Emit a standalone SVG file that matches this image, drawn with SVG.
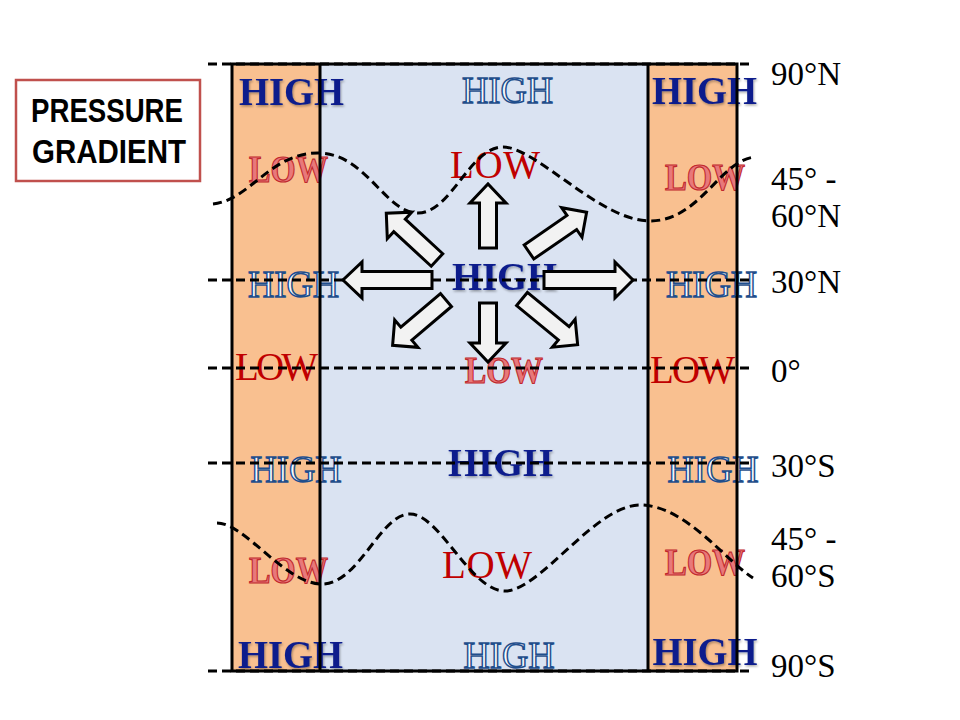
<svg xmlns="http://www.w3.org/2000/svg" width="960" height="720" viewBox="0 0 960 720">
<style>
.hs{font-family:"Liberation Serif",serif;font-weight:bold;font-size:40px;fill:#0A1E8C;text-anchor:middle}
.ho{font-family:"Liberation Serif",serif;font-size:37px;fill:#F7FAFD;stroke:#1F4E8C;stroke-width:1.5;text-anchor:middle}
.ls{font-family:"Liberation Serif",serif;font-size:39px;fill:#C00000;text-anchor:middle}
.lo{font-family:"Liberation Serif",serif;font-weight:bold;font-size:37px;fill:#E8787A;stroke:#C0282D;stroke-width:1.2;text-anchor:middle}
.lat{font-family:"Liberation Serif",serif;font-size:33px;fill:#000}
.dash{fill:none;stroke:#000;stroke-width:3;stroke-dasharray:9 5}
.arr{fill:#F2F2F2;stroke:#000;stroke-width:3;stroke-linejoin:miter}
.title{font-family:"Liberation Sans",Arial,sans-serif;font-weight:bold;font-size:34px;fill:#000;text-anchor:middle}
</style>
<defs>
<filter id="sh" x="-10%" y="-20%" width="130%" height="150%">
<feDropShadow dx="1" dy="1.5" stdDeviation="1" flood-color="#000" flood-opacity="0.35"/>
</filter>
</defs>
<rect width="960" height="720" fill="#fff"/>

<g id="bands">
<rect x="232" y="64" width="88" height="607" fill="#F9C090"/>
<rect x="320" y="64" width="328" height="607" fill="#DAE3F2"/>
<rect x="648" y="64" width="89" height="607" fill="#F9C090"/>
</g>

<g id="title">
<rect x="16" y="80" width="184" height="101" fill="#fff" stroke="#C0504D" stroke-width="2.5"/>
<text class="title" x="107" y="122" textLength="152" lengthAdjust="spacingAndGlyphs">PRESSURE</text>
<text class="title" x="109" y="163" textLength="154" lengthAdjust="spacingAndGlyphs">GRADIENT</text>
</g>

<g id="labels-high">
<text class="hs" filter="url(#sh)" x="291.5" y="105" textLength="105" lengthAdjust="spacingAndGlyphs">HIGH</text>
<text class="hs" filter="url(#sh)" x="704.5" y="104" textLength="105" lengthAdjust="spacingAndGlyphs">HIGH</text>
<text class="hs" filter="url(#sh)" x="504.5" y="290" textLength="105" lengthAdjust="spacingAndGlyphs">HIGH</text>
<text class="hs" filter="url(#sh)" x="500.5" y="476" textLength="105" lengthAdjust="spacingAndGlyphs">HIGH</text>
<text class="hs" filter="url(#sh)" x="290.5" y="668" textLength="105" lengthAdjust="spacingAndGlyphs">HIGH</text>
<text class="hs" filter="url(#sh)" x="705" y="665" textLength="105" lengthAdjust="spacingAndGlyphs">HIGH</text>
<text class="ho" x="507.5" y="103" textLength="91" lengthAdjust="spacingAndGlyphs">HIGH</text>
<text class="ho" x="293.5" y="297" textLength="91" lengthAdjust="spacingAndGlyphs">HIGH</text>
<text class="ho" x="711.5" y="297" textLength="91" lengthAdjust="spacingAndGlyphs">HIGH</text>
<text class="ho" x="296" y="482" textLength="91" lengthAdjust="spacingAndGlyphs">HIGH</text>
<text class="ho" x="713" y="482" textLength="91" lengthAdjust="spacingAndGlyphs">HIGH</text>
<text class="ho" x="509" y="668" textLength="91" lengthAdjust="spacingAndGlyphs">HIGH</text>
</g>

<g id="labels-low">
<text class="ls" x="495" y="178" textLength="90">LOW</text>
<text class="ls" x="276.5" y="380" textLength="83">LOW</text>
<text class="ls" x="692.5" y="383" textLength="85">LOW</text>
<text class="ls" x="487" y="578" textLength="90">LOW</text>
<text class="lo" x="288.5" y="182" textLength="79" lengthAdjust="spacingAndGlyphs">LOW</text>
<text class="lo" x="705" y="190" textLength="80" lengthAdjust="spacingAndGlyphs">LOW</text>
<text class="lo" x="504" y="383" textLength="78" lengthAdjust="spacingAndGlyphs">LOW</text>
<text class="lo" x="288.5" y="583" textLength="79" lengthAdjust="spacingAndGlyphs">LOW</text>
<text class="lo" x="705" y="575" textLength="80" lengthAdjust="spacingAndGlyphs">LOW</text>
</g>

<g id="latitudes">
<line class="dash" x1="208" y1="64" x2="752" y2="64"/>
<line class="dash" x1="208" y1="280" x2="752" y2="280"/>
<line class="dash" x1="208" y1="368" x2="752" y2="368"/>
<line class="dash" x1="208" y1="463" x2="752" y2="463"/>
<line class="dash" x1="208" y1="671" x2="752" y2="671"/>
<path class="dash" d="M213,204 C250,200 270,153 318,153 S385,213 418,213 S470,147 503,147 S600,221 650,221 S720,160 755,157"/>
<path class="dash" d="M217,523 C245,523 285,584 322,584 S380,514 410,514 S470,591 505,591 S595,505 640,505 S725,560 753,578"/>
</g>

<g id="frame" fill="none" stroke="#000" stroke-width="3">
<rect x="232" y="64" width="505" height="607"/>
<line x1="320" y1="64" x2="320" y2="671"/>
<line x1="648" y1="64" x2="648" y2="671"/>
</g>

<g id="lat-labels">
<text class="lat" x="771" y="85">90°N</text>
<text class="lat" x="771" y="190">45° -</text>
<text class="lat" x="771" y="227">60°N</text>
<text class="lat" x="771" y="293">30°N</text>
<text class="lat" x="771" y="382">0°</text>
<text class="lat" x="771" y="477">30°S</text>
<text class="lat" x="771" y="550">45° -</text>
<text class="lat" x="771" y="587">60°S</text>
<text class="lat" x="771" y="677">90°S</text>
</g>

<g id="connectors">
<polygon class="arr" transform="translate(488,248) rotate(-90)" points="0,-8.5 45,-8.5 45,-18 64,0 45,18 45,8.5 0,8.5"/>
<polygon class="arr" transform="translate(488,303) rotate(90)" points="0,-8.5 40,-8.5 40,-18 59,0 40,18 40,8.5 0,8.5"/>
<polygon class="arr" transform="translate(432,280) rotate(180)" points="0,-8.5 70,-8.5 70,-18 89,0 70,18 70,8.5 0,8.5"/>
<polygon class="arr" transform="translate(544,280)" points="0,-8.5 71,-8.5 71,-18 89,0 71,18 71,8.5 0,8.5"/>
<polygon class="arr" transform="translate(437,260) rotate(-137.3)" points="0,-8.5 51,-8.5 51,-18 69,0 51,18 51,8.5 0,8.5"/>
<polygon class="arr" transform="translate(529,252) rotate(-34.6)" points="0,-8.5 52,-8.5 52,-18 70,0 52,18 52,8.5 0,8.5"/>
<polygon class="arr" transform="translate(446,300) rotate(139.7)" points="0,-8.5 52,-8.5 52,-18 70,0 52,18 52,8.5 0,8.5"/>
<polygon class="arr" transform="translate(522,299) rotate(39.4)" points="0,-8.5 54,-8.5 54,-18 72,0 54,18 54,8.5 0,8.5"/>
</g>
</svg>
